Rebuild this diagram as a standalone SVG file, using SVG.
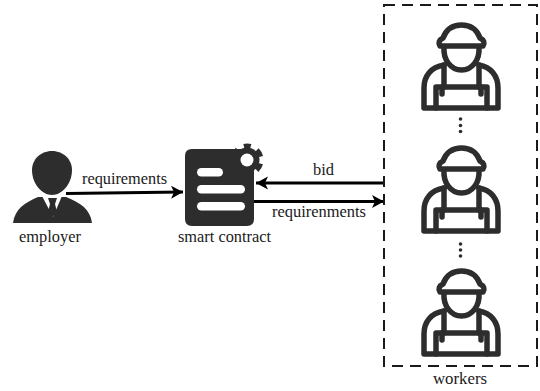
<svg xmlns="http://www.w3.org/2000/svg" width="540" height="391" viewBox="0 0 540 391">
<style>
text{font-family:"Liberation Serif","Times New Roman",serif;font-size:16px;fill:#1a1a1a}
.w{fill:none;stroke:#2d2d2d;stroke-width:5.500;stroke-linecap:round;stroke-linejoin:round}
.c{stroke:#000;stroke-width:2.800;fill:none}
.d{fill:#2d2d2d}
</style>
<defs>
<g id="worker">
<path class="w" d="M440 46H483C485 43 484 40 480 38C477 30 471 25 461.500 25C452 25 446 30 443 38C439 40 438 43 440 46Z"/>
<path class="w" d="M444 47C443 60 451 70 461.500 70C472 70 480 60 479 47"/>
<path class="w" d="M444 65C431 67 424 76 424 88V108H498V88C498 76 491 67 479 65"/>
<path class="w" d="M444 65V87M479 65V87"/>
<path class="w" d="M436 108V87H487V108"/>
<path class="w" d="M442 87V94M481 87V94"/>
</g>
<marker id="ah" markerUnits="userSpaceOnUse" markerWidth="14" markerHeight="14" refX="12" refY="7" orient="auto"><path d="M0 .5L12 7L0 13.500L3 7Z" fill="#000"/></marker>
</defs>
<g id="connectors">
<path class="c" d="M66 193.500L183 192" marker-end="url(#ah)"/>
<path class="c" d="M384 183H256" marker-end="url(#ah)"/>
<path class="c" d="M254 201.500H384" marker-end="url(#ah)"/>
</g>
<g id="employer">
<path class="d" d="M52 151C64 151 72 160 72 170C72 184 62 195 52 195C42 195 32 184 32 170C32 160 40 151 52 151Z"/>
<path class="d" d="M13 223C15 209 24 203 38 197H66C81 203 90 209 92 223Z"/>
<path d="M42 196L62 196L53 217Z" fill="#fff"/>
<path class="d" d="M48 198H57L55 204L57 212L52.500 217L48 212L50 204Z"/>
<text x="19" y="242" textLength="62" lengthAdjust="spacingAndGlyphs">employer</text>
</g>
<g id="smart-contract">
<path class="d" d="M192 149H245V165H254V219Q254 226 247 226H192Q185 226 185 219V156Q185 149 192 149Z"/>
<circle class="d" cx="247" cy="160" r="12.500"/>
<circle cx="247" cy="160" r="14" fill="none" stroke="#2d2d2d" stroke-width="5" stroke-dasharray="7.500 7.161" stroke-dashoffset="3.750" transform="rotate(-90 247 160)"/>
<circle cx="247" cy="160" r="6.500" fill="#fff"/>
<rect x="197" y="168" width="26" height="8.500" rx="4.250" fill="#fff"/>
<rect x="197" y="185" width="48" height="8.500" rx="4.250" fill="#fff"/>
<rect x="197" y="202" width="48" height="8.500" rx="4.250" fill="#fff"/>
<text x="178" y="242" textLength="93" lengthAdjust="spacingAndGlyphs">smart contract</text>
</g>
<g id="workers">
<rect x="384" y="5" width="153" height="361" fill="none" stroke="#1a1a1a" stroke-width="2" stroke-dasharray="11 7"/>
<use href="#worker" y="0"/>
<use href="#worker" y="123"/>
<use href="#worker" y="246"/>
<g class="d"><circle cx="460.500" cy="119" r="1.800"/><circle cx="460.500" cy="125.500" r="1.800"/><circle cx="460.500" cy="131.500" r="1.800"/><circle cx="460.500" cy="244" r="1.800"/><circle cx="460.500" cy="250" r="1.800"/><circle cx="460.500" cy="256" r="1.800"/></g>
<text x="433" y="384" textLength="54" lengthAdjust="spacingAndGlyphs">workers</text>
</g>
<text x="82" y="184" textLength="85" lengthAdjust="spacingAndGlyphs">requirements</text>
<text x="313" y="175" textLength="21" lengthAdjust="spacingAndGlyphs">bid</text>
<text x="272" y="217" textLength="94" lengthAdjust="spacingAndGlyphs">requirenments</text>
</svg>
